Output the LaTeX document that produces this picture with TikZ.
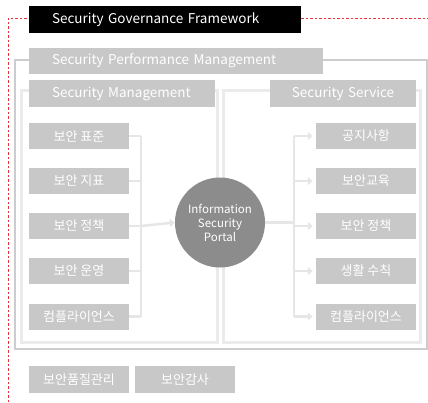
\documentclass[tikz,border=0pt]{standalone}
\usepackage{fontspec}
\setmainfont{Noto Sans CJK KR}
\usetikzlibrary{arrows.meta}
\definecolor{boxgray}{HTML}{C8C8C8}
\definecolor{conngray}{HTML}{E6E6E6}
\definecolor{panelgray}{HTML}{EBEBEB}
\definecolor{framegray}{HTML}{CDCDCD}
\definecolor{portalgray}{HTML}{8C8C8C}
\definecolor{reddash}{HTML}{E8323C}
\tikzset{
  graybox/.style={fill=boxgray, text=white, inner sep=0pt, minimum width=100pt, minimum height=26pt, font=\fontsize{13}{15}\selectfont},
  headbox/.style={fill=boxgray, text=white, inner xsep=23pt, inner ysep=0pt, minimum height=26pt, align=left, font=\fontsize{13.5}{16}\selectfont},
  conn/.style={draw=conngray, line width=2.5pt},
  connarrow/.style={conn, -{Triangle[length=5pt,width=8pt]}},
  panel/.style={draw=panelgray, line width=3pt},
  frame/.style={draw=framegray, line width=2pt},
  redline/.style={draw=reddash, line width=0.9pt, dash pattern=on 2.5pt off 2pt}
}
\begin{document}
\begin{tikzpicture}[x=1pt,y=-1pt]
\useasboundingbox (0,0) rectangle (428,402);
% red dashed frame
\coordinate (rc) at (8,18);
\coordinate (rb) at (8,402);
\coordinate (rr) at (428,18);
% outer frame and panels
\draw[frame] (15,60) rectangle (427,349);
\draw[panel] (21,90) rectangle (217,342);
\draw[panel] (223,90) rectangle (420,342);
% header boxes
\node[headbox, fill=black, text width=226pt, minimum height=27pt] (gov) at (165,19.5) {Security Governance Framework};
\draw[redline] (rb) -- (rc) -- (gov.west |- rc);
\draw[redline] (gov.east |- rr) -- (rr);
\node[headbox, text width=248pt] (perf) at (176,61) {Security Performance Management};
\node[headbox, text width=140pt, minimum height=27pt] (smgmt) at (122,93.5) {Security Management};
\node[headbox, inner xsep=13pt, text width=120pt, align=center, minimum height=27pt] (ssvc) at (343,93.5) {Security Service};
% portal
\node[circle, fill=portalgray, text=white, minimum size=90pt, inner sep=0pt, align=center, font=\fontsize{11.5}{14}\selectfont] (portal) at (220,222.5) {Information\\Security\\Portal};
% left boxes
\node[graybox] (L1) at (79,136) {보안 표준};
\node[graybox] (L2) at (79,181) {보안 지표};
\node[graybox] (L3) at (79,226) {보안 정책};
\node[graybox] (L4) at (79,271) {보안 운영};
\node[graybox] (L5) at (79,316.5) {컴플라이언스};
% right boxes
\node[graybox] (R1) at (366,136) {공지사항};
\node[graybox] (R2) at (366,181) {보안교육};
\node[graybox] (R3) at (366,226) {보안 정책};
\node[graybox] (R4) at (366,271) {생활 수칙};
\node[graybox] (R5) at (366,316.5) {컴플라이언스};
% bottom boxes
\node[graybox, minimum height=27pt] (Q1) at (79,379.5) {보안품질관리};
\node[graybox, minimum height=27pt] (Q2) at (185,379.5) {보안감사};
% left connectors
\coordinate (lbus) at (141,226);
\foreach \i in {1,...,5} {
  \draw[conn] (L\i.east) -- (L\i.east -| lbus);
}
\draw[conn] (L1.east -| lbus) -- (L5.east -| lbus);
\draw[connarrow] (L3.east -| lbus) -- (portal.west);
% right connectors
\coordinate (rbus) at (294,226);
\draw[conn] (portal.east) -- (portal.east -| rbus);
\draw[conn] (R1.west -| rbus) -- (R5.west -| rbus);
\foreach \i in {1,...,5} {
  \draw[connarrow, shorten >=3pt] (R\i.west -| rbus) -- (R\i.west);
}
\end{tikzpicture}
\end{document}
